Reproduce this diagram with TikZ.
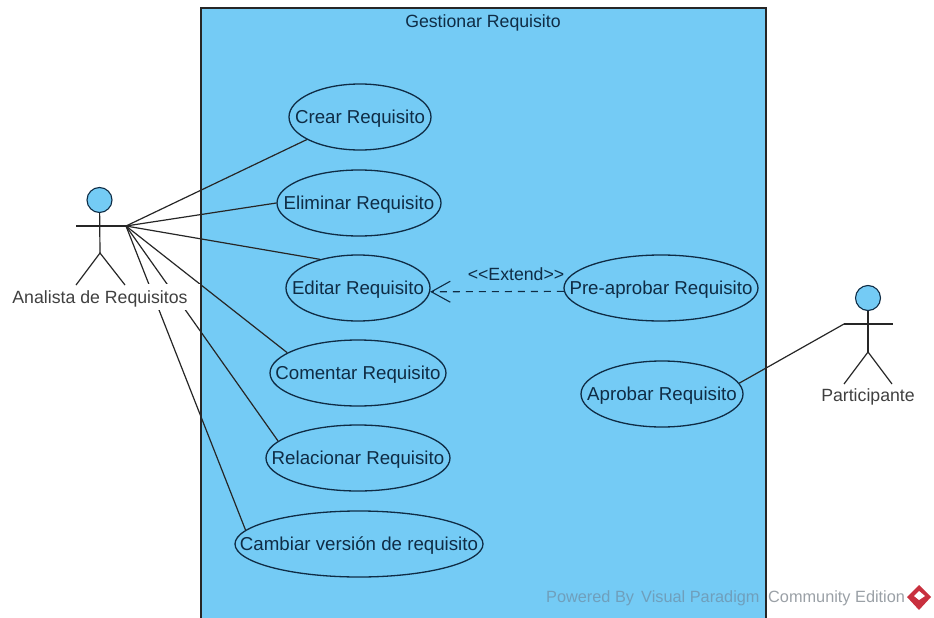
\documentclass[tikz,border=0pt]{standalone}
\usepackage{fontspec}
\setmainfont{Liberation Sans}
\usetikzlibrary{shapes.geometric,arrows.meta}
\definecolor{ucblue}{HTML}{74CBF5}
\definecolor{ucink}{HTML}{0F2C45}
\definecolor{wmgray}{HTML}{9AA0A6}
\definecolor{wmblue}{HTML}{6F9FBC}
\definecolor{vpred}{HTML}{C8303E}
\newcommand{\uctext}[1]{\makebox[0pt][c]{#1}}
\tikzset{
  x=1pt,y=-1pt,
  usecase/.style={ellipse,draw=ucink,line width=1.3pt,inner sep=0pt,minimum height=66pt,font=\fontsize{18.7}{20}\selectfont,text=ucink,text height=15pt,text depth=3pt},
  link/.style={line width=1.2pt,draw=black!85},
  stick/.style={line width=1.2pt,draw=black!85},
  caption/.style={font=\fontsize{17.7}{20}\selectfont,text=black!75,inner sep=0pt},
  wm/.style={font=\fontsize{16.3}{18}\selectfont,inner sep=0pt,anchor=west},
}
\begin{document}
\begin{tikzpicture}
\useasboundingbox (0,0) rectangle (934,618);
\fill[ucblue] (201,8) rectangle (766,618);
\node[font=\fontsize{17.7}{20}\selectfont,text=ucink,inner sep=0pt] (title) at (483,23) {Gestionar Requisito};

\node[usecase,minimum width=142pt] (crear) at (360,117) {\uctext{Crear Requisito}};
\node[usecase,minimum width=164pt] (eliminar) at (359,203) {\uctext{Eliminar Requisito}};
\node[usecase,minimum width=144pt] (editar) at (358,288) {\uctext{Editar Requisito}};
\node[usecase,minimum width=176pt] (comentar) at (358,373) {\uctext{Comentar Requisito}};
\node[usecase,minimum width=184pt] (relacionar) at (358,458) {\uctext{Relacionar Requisito}};
\node[usecase,minimum width=248pt] (cambiar) at (359,544) {\uctext{Cambiar versión de requisito}};
\node[usecase,minimum width=194pt] (pre) at (661,288) {\uctext{Pre-aprobar Requisito}};
\node[usecase,minimum width=162pt] (aprobar) at (662,394) {\uctext{Aprobar Requisito}};

% left actor
\coordinate (handL) at (126,226);
\draw[link] (handL) -- (crear.203.6);
\draw[link] (handL) -- (eliminar.180);
\draw[link] (handL) -- (editar.143.6);
\draw[link] (handL) -- (comentar.164.5);
\draw[link] (handL) -- (relacionar.168.8);
\draw[link] (handL) -- (cambiar.173.1);
\node[fill=white,inner sep=0pt,minimum width=191pt,minimum height=26pt] (labelbg) at (105.5,297) {};
\node[caption] (analista) at (100,299) {Analista de Requisitos};
\node[circle,draw=ucink,fill=ucblue,line width=1.1pt,minimum size=25pt,inner sep=0pt] (headL) at (99.5,200) {};
\coordinate (armL) at (76,226);
\coordinate (hipL) at (100,253);
\coordinate (footLa) at (76,285);
\coordinate (footLb) at (125,285);
\draw[stick] (armL) -- (handL);
\draw[stick] (headL) -- (hipL);
\draw[stick] (footLa) -- (hipL) -- (footLb);

% right actor
\node[circle,draw=ucink,fill=ucblue,line width=1.1pt,minimum size=25pt,inner sep=0pt] (headR) at (868,298) {};
\coordinate (armRa) at (844,324);
\coordinate (armRb) at (893,324);
\coordinate (hipR) at (868,352);
\coordinate (footRa) at (844,384);
\coordinate (footRb) at (892,384);
\draw[stick] (armRa) -- (armRb);
\draw[stick] (headR) -- (hipR);
\draw[stick] (footRa) -- (hipR) -- (footRb);
\node[caption] (participante) at (868,397) {Participante};
\draw[link] (aprobar.8) -- (armRa);

% extend
\draw[ucink,line width=1.1pt,dash pattern=on 7pt off 6pt,-{Straight Barb[length=19pt,width=21pt,line width=1.1pt]}] (pre.182.4) -- (editar.-3.2);
\node[font=\fontsize{17.7}{20}\selectfont,text=ucink,inner sep=0pt] (extend) at (516,274) {<{}<Extend>{}>};

% boundary on top of the label backing
\draw[black!85,line width=1.4pt] (201,618) -- (201,8) -- (766,8) -- (766,618);

% watermark
\node[wm,text=wmblue] (wm1) at (546,598) {Powered By};
\node[wm,text=wmblue] (wm2) at (641,598) {Visual Paradigm};
\node[wm,text=wmgray] (wm3) at (768,598) {Community Edition};
\fill[vpred] (919,585) -- (931,597) -- (919,610) -- (907,597) -- cycle;
\fill[white] (919,591) -- (925,596) -- (919,600) -- (914,596) -- cycle;
\end{tikzpicture}
\end{document}
